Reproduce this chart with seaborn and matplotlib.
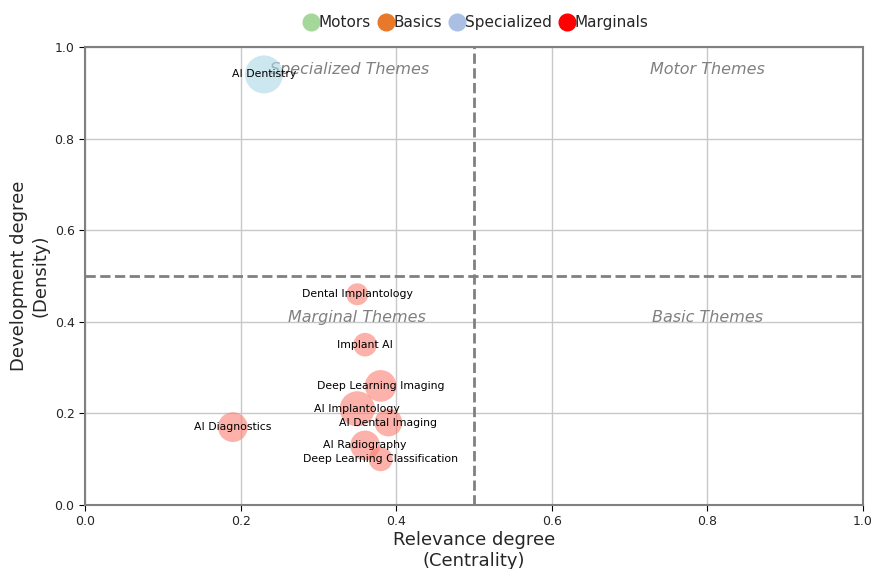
import matplotlib
matplotlib.use("Agg")
import matplotlib.pyplot as plt
from matplotlib.lines import Line2D
import seaborn as sns
import pandas as pd

themes = ["AI Dentistry", "Dental Implantology", "Implant AI", "Deep Learning Imaging",
          "AI Implantology", "AI Dental Imaging", "AI Diagnostics", "AI Radiography",
          "Deep Learning Classification"]
centrality = [0.23, 0.35, 0.36, 0.38, 0.35, 0.39, 0.19, 0.36, 0.38]
density = [0.94, 0.46, 0.35, 0.26, 0.21, 0.18, 0.17, 0.13, 0.10]
bubble = [750, 250, 290, 520, 640, 400, 460, 460, 300]
group = ["Specialized", "Marginals", "Marginals", "Marginals", "Marginals",
         "Marginals", "Marginals", "Marginals", "Marginals"]

legend_labels = ["Motors", "Basics", "Specialized", "Marginals"]
legend_colors = ["#a6d79a", "#e8792a", "#a9c0e4", "#ff0000"]
point_colors = {"Specialized": "#add8e6", "Marginals": "#fa8072"}

quadrants = ["Specialized Themes", "Motor Themes", "Marginal Themes", "Basic Themes"]
quad_x = [0.34, 0.80, 0.35, 0.80]
quad_y = [0.95, 0.95, 0.41, 0.41]

df = pd.DataFrame({"x": centrality, "y": density, "s": bubble, "g": group, "name": themes})

sns.set_style("whitegrid")
plt.rcParams['font.family'] = ['DejaVu Sans']
fig = plt.figure(figsize=(8.73, 5.69), dpi=100)
ax = fig.add_axes([0.0974, 0.1125, 0.8911, 0.805])

sns.scatterplot(data=df, x="x", y="y", hue="g", palette=point_colors, size="s",
                sizes=(min(bubble), max(bubble)), size_norm=(min(bubble), max(bubble)),
                alpha=0.6, linewidth=0, legend=False, ax=ax, zorder=3)

for n, xx, yy in zip(themes, centrality, density):
    ax.text(xx, yy, n, ha="center", va="center", fontsize=7.8, color="black", zorder=4)

for q, xx, yy in zip(quadrants, quad_x, quad_y):
    ax.text(xx, yy, q, ha="center", va="center", fontsize=11.5, style="italic",
            color="gray", zorder=2)

ax.axhline(0.5, color="gray", linestyle="--", linewidth=2, zorder=2)
ax.axvline(0.5, color="gray", linestyle="--", linewidth=2, zorder=2)

ax.set_xlim(0, 1)
ax.set_ylim(0, 1)
ax.set_xticks([0, 0.2, 0.4, 0.6, 0.8, 1.0])
ax.set_yticks([0, 0.2, 0.4, 0.6, 0.8, 1.0])
ax.tick_params(labelsize=9, length=4, color="black", left=True, bottom=True)
ax.grid(True, color="#c8c8c8", linewidth=1)
for sp in ax.spines.values():
    sp.set_color("gray")
    sp.set_linewidth(1.5)
ax.set_xlabel("Relevance degree\n(Centrality)", fontsize=13, labelpad=2)
ax.set_ylabel("Development degree\n(Density)", fontsize=13, labelpad=4)

handles = [Line2D([0], [0], marker="o", linestyle="", markersize=12,
                  markerfacecolor=c, markeredgecolor=c) for c in legend_colors]
fig.legend(handles, legend_labels, loc="upper center", bbox_to_anchor=(0.545, 0.997),
           ncol=4, frameon=False, fontsize=11, handletextpad=0.0, columnspacing=0.5,
           handlelength=1.0)

fig.savefig("out.png", dpi=100)
